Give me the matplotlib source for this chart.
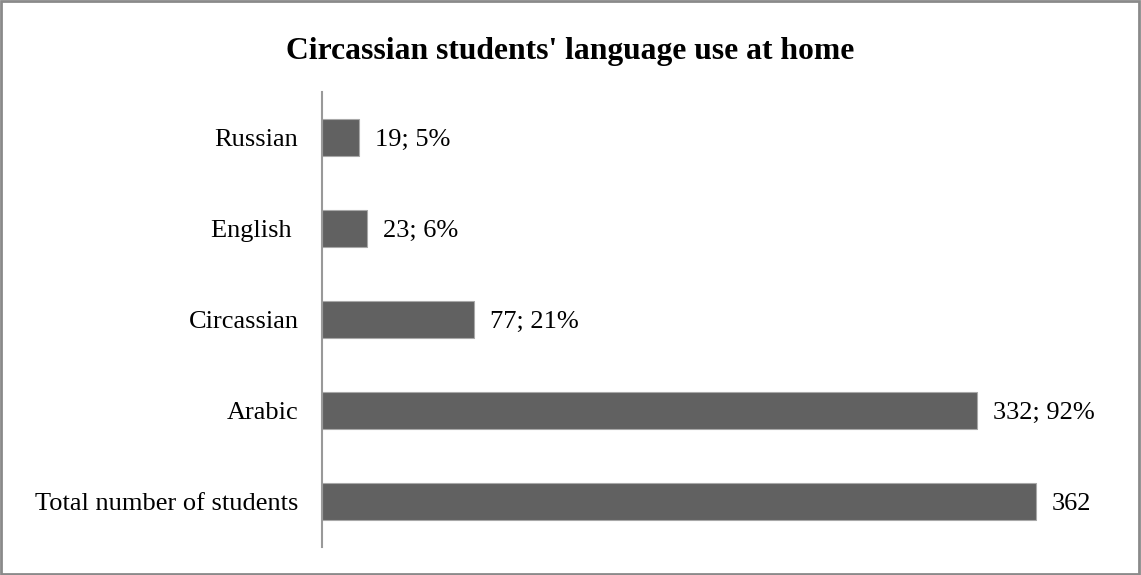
import matplotlib.pyplot as plt
from matplotlib.patches import Rectangle

languages = ['Total number of students', 'Arabic', 'Circassian', 'English ', 'Russian']
counts = [362, 332, 77, 23, 19]
value_labels = ['362', '332; 92%', '77; 21%', '23; 6%', '19; 5%']

plt.rcParams['font.family'] = ['Liberation Serif', 'DejaVu Serif']

fig = plt.figure(figsize=(11.41, 5.75), dpi=100)
ax = fig.add_axes([0.2822, 0.0487, 0.6915, 0.7913])

ax.barh(range(len(counts)), counts, height=0.4, color='#616161',
        edgecolor='#a8a8a8', linewidth=0.8)
ax.set_xlim(0, 400)
ax.set_ylim(-0.5, len(counts) - 0.5)

for i, (c, lab) in enumerate(zip(counts, value_labels)):
    ax.annotate(lab, (c, i), xytext=(11.5, -2), textcoords='offset points',
                va='center', ha='left', fontsize=19)

ax.set_yticks(range(len(languages)))
ax.set_yticklabels(languages, fontsize=19)
ax.tick_params(axis='y', length=0, pad=17)
ax.set_xticks([])
for side in ['top', 'right', 'bottom']:
    ax.spines[side].set_visible(False)
ax.spines['left'].set_color('#999999')
ax.spines['left'].set_linewidth(1.5)

fig.text(0.5, 0.91, "Circassian students' language use at home",
         ha='center', va='center', fontsize=22.8, fontweight='bold')

# grey border around the whole chart
fig.patches.append(Rectangle((0.001, 0.002), 0.997, 0.996, transform=fig.transFigure,
                             fill=False, edgecolor='#8a8a8a', linewidth=2))

fig.savefig('out.png', dpi=100)
